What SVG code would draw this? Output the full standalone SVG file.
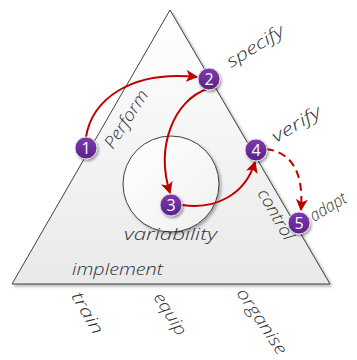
<svg xmlns="http://www.w3.org/2000/svg" width="357" height="360" viewBox="0 0 357 360">
<defs>
  <linearGradient id="triFill" x1="0" y1="0" x2="0" y2="1">
    <stop offset="0" stop-color="#ffffff"/>
    <stop offset="1" stop-color="#e9e9e9"/>
  </linearGradient>
  <linearGradient id="circFill" x1="0" y1="0" x2="1" y2="1">
    <stop offset="0" stop-color="#ffffff"/>
    <stop offset="1" stop-color="#f0f0f0"/>
  </linearGradient>
  <linearGradient id="nodeFill" x1="0" y1="0" x2="0" y2="1">
    <stop offset="0" stop-color="#7d3aae"/>
    <stop offset="1" stop-color="#5a2288"/>
  </linearGradient>
  <filter id="shadow" x="-30%" y="-30%" width="160%" height="160%">
    <feDropShadow dx="1.5" dy="2" stdDeviation="1.2" flood-color="#000" flood-opacity="0.35"/>
  </filter>
  <filter id="softShadow" x="-10%" y="-10%" width="120%" height="120%">
    <feDropShadow dx="2" dy="2" stdDeviation="1.5" flood-color="#000" flood-opacity="0.3"/>
  </filter>
  <marker id="arrow" viewBox="0 0 10 10" refX="9" refY="5" markerWidth="6" markerHeight="6" orient="auto" markerUnits="strokeWidth">
    <path d="M0,0 L10,5 L0,10 L2.5,5 Z" fill="#c00000"/>
  </marker>
  <style>
    .edge { fill: none; stroke: #c00000; stroke-width: 2; marker-end: url(#arrow); }
    .dashed { stroke-dasharray: 8 5; }
    .node circle { fill: url(#nodeFill); stroke: #e0e0e0; stroke-width: 1; filter: url(#shadow); }
    .node text { font-family: "Open Sans", "Noto Sans", sans-serif; font-size: 16px; fill: #ffffff; text-anchor: middle; }
    .lbl { font-family: "Open Sans", "DejaVu Sans", sans-serif; font-style: italic; font-weight: 300; font-size: 17px; fill: #303030; }
  </style>
</defs>

<g id="triangle">
  <polygon points="170,10 12,284 330,284" fill="url(#triFill)" stroke="#404040" stroke-width="1" filter="url(#softShadow)"/>
</g>

<g id="variability-circle">
  <circle cx="171" cy="184" r="48" fill="url(#circFill)" stroke="#404040" stroke-width="1" filter="url(#softShadow)"/>
</g>

<g id="labels">
  <text class="lbl" transform="translate(113,150) rotate(-57)" textLength="66" lengthAdjust="spacingAndGlyphs">Perform</text>
  <text class="lbl" transform="translate(231,68) rotate(-32)" textLength="64" lengthAdjust="spacingAndGlyphs">specify</text>
  <text class="lbl" transform="translate(276,143) rotate(-31)" textLength="54" lengthAdjust="spacingAndGlyphs">verify</text>
  <text class="lbl" transform="translate(314,222) rotate(-31)" textLength="40" lengthAdjust="spacingAndGlyphs">adapt</text>
  <text class="lbl" transform="translate(257,193) rotate(60)" textLength="56" lengthAdjust="spacingAndGlyphs">control</text>
  <text class="lbl" x="124" y="240" textLength="93" lengthAdjust="spacingAndGlyphs">variability</text>
  <text class="lbl" x="72" y="275" textLength="91" lengthAdjust="spacingAndGlyphs">implement</text>
  <text class="lbl" transform="translate(71,296) rotate(60)" textLength="46" lengthAdjust="spacingAndGlyphs">train</text>
  <text class="lbl" transform="translate(153,297) rotate(58)" textLength="47" lengthAdjust="spacingAndGlyphs">equip</text>
  <text class="lbl" transform="translate(236,293) rotate(56)" textLength="76" lengthAdjust="spacingAndGlyphs">organise</text>
</g>

<g id="connectors">
  <path class="edge" d="M86,137 C92,100 130,70 197,77"/>
  <path class="edge" d="M207,89 C175,100 155,145 170,193"/>
  <path class="edge" d="M182,205 C215,210 245,195 255,162"/>
  <path class="edge dashed" d="M266,149 C290,152 304,170 301,210"/>
</g>

<g id="node1" class="node"><circle cx="86" cy="148" r="11"/><text x="86" y="153.5">1</text></g>
<g id="node2" class="node"><circle cx="209" cy="79" r="11"/><text x="209" y="84.5">2</text></g>
<g id="node3" class="node"><circle cx="171" cy="205" r="11"/><text x="171" y="210.5">3</text></g>
<g id="node4" class="node"><circle cx="256" cy="150" r="11"/><text x="256" y="155.5">4</text></g>
<g id="node5" class="node"><circle cx="299" cy="223" r="11"/><text x="299" y="228.5">5</text></g>
</svg>
